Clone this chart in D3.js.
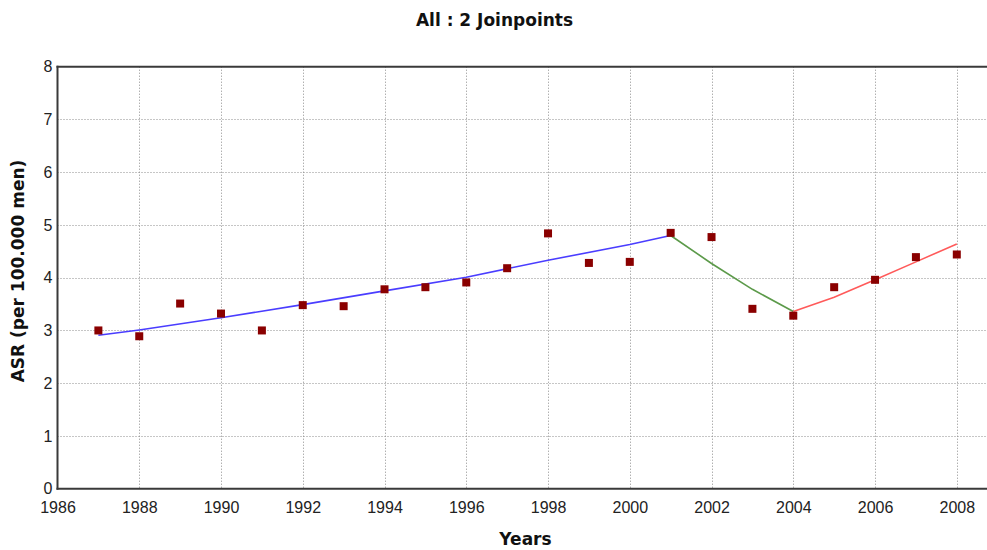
<!DOCTYPE html>
<html><head><meta charset="utf-8">
<script src="https://cdn.jsdelivr.net/npm/d3@7"></script>
<style>body{margin:0;background:#fff;}svg{display:block;}</style>
</head><body>
<script>
// ---- data ----
const years = [1987,1988,1989,1990,1991,1992,1993,1994,1995,1996,1997,1998,1999,2000,2001,2002,2003,2004,2005,2006,2007,2008];
const observed = [3.00,2.89,3.51,3.32,3.00,3.48,3.46,3.78,3.82,3.91,4.18,4.84,4.28,4.30,4.85,4.77,3.41,3.28,3.82,3.96,4.39,4.44];
const seg1Years = [1987,1988,1990,1992,1994,1996,1998,2000,2001];
const seg1Fit = [2.91,3.01,3.24,3.49,3.75,4.01,4.33,4.63,4.80];
const seg2Years = [2001,2002,2003,2004];
const seg2Fit = [4.80,4.27,3.78,3.36];
const seg3Years = [2004,2005,2006,2007,2008];
const seg3Fit = [3.36,3.63,3.96,4.30,4.64];
const xTicks = [1986,1988,1990,1992,1994,1996,1998,2000,2002,2004,2006,2008];
const yTicks = [0,1,2,3,4,5,6,7,8];
const title = "All : 2 Joinpoints";
const xTitle = "Years";
const yTitle = "ASR (per 100.000 men)";

const W = 987, H = 550;
const svg = d3.select("body").append("svg").attr("width", W).attr("height", H);
const x = d3.scaleLinear().domain([1986, 2008]).range([57.5, 956.8]);
const y = d3.scaleLinear().domain([0, 8]).range([488.7, 66.7]);
const xRight = 990;

// grid
const grid = svg.append("g").attr("stroke", "#8c8c8c").attr("stroke-width", 1).attr("stroke-dasharray", "1,2");
grid.selectAll("line.v").data(xTicks.slice(1)).enter().append("line")
  .attr("x1", d => Math.round(x(d)) + 0.5).attr("x2", d => Math.round(x(d)) + 0.5)
  .attr("y1", y(8)).attr("y2", y(0));
grid.selectAll("line.h").data(yTicks.slice(1, -1)).enter().append("line")
  .attr("x1", x(1986)).attr("x2", xRight)
  .attr("y1", d => Math.round(y(d)) + 0.5).attr("y2", d => Math.round(y(d)) + 0.5);

// axes lines
const ax = svg.append("g").attr("stroke", "#3a3a3a").attr("stroke-width", 2);
ax.append("line").attr("x1", x(1986)).attr("x2", x(1986)).attr("y1", y(8) - 1).attr("y2", y(0) + 1);
ax.append("line").attr("x1", x(1986) - 1).attr("x2", xRight).attr("y1", y(0)).attr("y2", y(0));
ax.append("line").attr("x1", x(1986) - 1).attr("x2", xRight).attr("y1", y(8)).attr("y2", y(8));

// tick labels via d3 axes
const xAxis = d3.axisBottom(x).tickValues(xTicks).tickFormat(d3.format("d")).tickSize(0).tickPadding(13);
const gx = svg.append("g").attr("transform", `translate(0,${y(0)})`).call(xAxis);
const yAxis = d3.axisLeft(y).tickValues(yTicks).tickFormat(d3.format("d")).tickSize(0).tickPadding(5);
const gy = svg.append("g").attr("transform", `translate(${x(1986)},0)`).call(yAxis);
[gx, gy].forEach(g => {
  g.select(".domain").remove();
  g.selectAll("text").attr("font-family", "Liberation Sans, Arial, sans-serif").attr("font-size", 16).attr("fill", "#222");
});

// fitted segments
const line = d3.line().x(d => x(d[0])).y(d => y(d[1]));
const segs = [
  {yrs: seg1Years, v: seg1Fit, c: "#4a3dff"},
  {yrs: seg2Years, v: seg2Fit, c: "#5c9a4a"},
  {yrs: seg3Years, v: seg3Fit, c: "#ff5a5a"}
];
segs.forEach(s => {
  svg.append("path").datum(s.yrs.map((yr, i) => [yr, s.v[i]]))
    .attr("d", line).attr("fill", "none").attr("stroke", s.c).attr("stroke-width", 1.6);
});

// observed points
const ms = 8;
svg.append("g").selectAll("rect").data(years.map((yr, i) => [yr, observed[i]])).enter().append("rect")
  .attr("x", d => x(d[0]) - ms / 2).attr("y", d => y(d[1]) - ms / 2)
  .attr("width", ms).attr("height", ms).attr("fill", "#8a0000");

// titles
const bold = "DejaVu Sans, Verdana, sans-serif";
svg.append("text").attr("x", 494.5).attr("y", 26).attr("text-anchor", "middle")
  .attr("font-family", bold).attr("font-weight", "bold").attr("font-size", 17).attr("fill", "#111").text(title);
svg.append("text").attr("x", 525.5).attr("y", 545).attr("text-anchor", "middle")
  .attr("font-family", bold).attr("font-weight", "bold").attr("font-size", 17).attr("fill", "#111").text(xTitle);
svg.append("text").attr("transform", "translate(24,271) rotate(-90)").attr("text-anchor", "middle")
  .attr("font-family", bold).attr("font-weight", "bold").attr("font-size", 17).attr("fill", "#111").text(yTitle);
</script>
</body></html>
